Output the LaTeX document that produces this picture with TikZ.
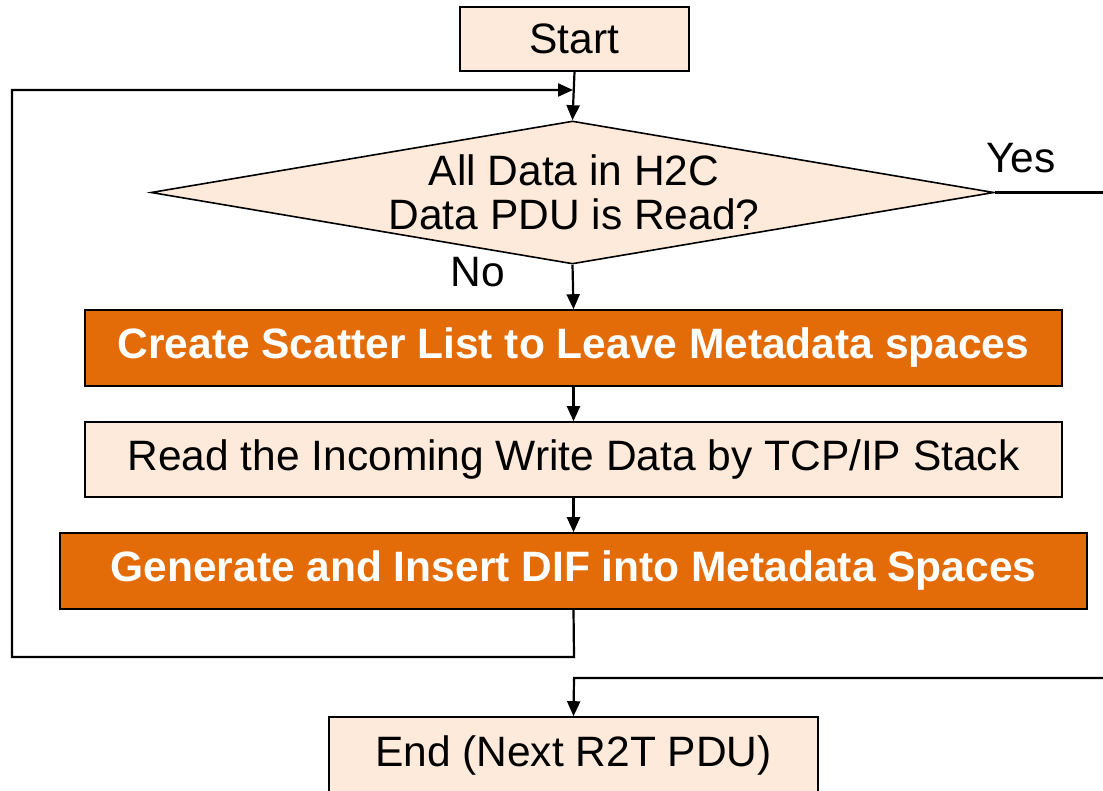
\documentclass[tikz,border=0pt]{standalone}
\usepackage{fontspec}
\setmainfont{Liberation Sans}
\usetikzlibrary{arrows.meta,shapes.geometric}
\definecolor{lightfill}{HTML}{FDEADA}
\definecolor{accent}{HTML}{E36C09}
\newcommand{\flowfont}{\fontsize{42.5}{44}\selectfont}
\tikzset{
  flowbox/.style={draw=black, line width=1.6pt, fill=lightfill, rectangle,
    inner sep=0pt, font=\flowfont},
  hotbox/.style={flowbox, fill=accent, text=white, font=\flowfont\bfseries},
  link/.style={draw=black, line width=2.2pt, -{Triangle[length=15pt,width=13pt]}},
  plain/.style={draw=black, line width=2.2pt},
  lbl/.style={font=\flowfont, inner sep=0pt}
}
\begin{document}
\begin{tikzpicture}[x=1pt,y=-1pt]
\useasboundingbox (0,0) rectangle (1103,790);

% process steps
\node[flowbox, minimum width=229pt, minimum height=64pt] (start) at (574.5,39) {Start};
\node[draw=black, line width=1.6pt, fill=lightfill, diamond, inner sep=0pt,
      minimum width=843pt, minimum height=143pt] (dec) at (572.5,192.5) {};
\node[lbl, align=center] (dectext) at (574,192) {All Data in H2C\\Data PDU is Read?};
\node[hotbox, minimum width=977pt, minimum height=76pt] (scatter) at (573.5,348) {Create Scatter List to Leave Metadata spaces};
\node[flowbox, minimum width=977pt, minimum height=75pt] (readin) at (573.5,459.5) {Read the Incoming Write Data by TCP/IP Stack};
\node[hotbox, minimum width=1027pt, minimum height=76pt] (dif) at (573.5,571) {Generate and Insert DIF into Metadata Spaces};
\node[flowbox, minimum width=489pt, minimum height=76pt] (finish) at (573.5,755) {End (Next R2T PDU)};

% branch labels
\node[lbl] (yes) at (1021,158) {Yes};
\node[lbl] (no) at (478,272) {No};

% loop and exit points
\coordinate (loopin) at (573,90);
\coordinate (yesout) at (1103,192.5);
\coordinate (retin) at (1103,678);

% connectors
\draw[link] (start.south) -- (dec.north);
\draw[link] (dec.south) -- (scatter.north);
\draw[link] (scatter.south) -- (readin.north);
\draw[link] (readin.south) -- (dif.north);
\draw[link] (dif.south) -- (574,657) -- (12,657) -- (12,90) -- (loopin);
\draw[plain] (dec.east) -- (yesout);
\draw[link] (retin) -- (574,678) -- (finish.north);
\end{tikzpicture}
\end{document}
